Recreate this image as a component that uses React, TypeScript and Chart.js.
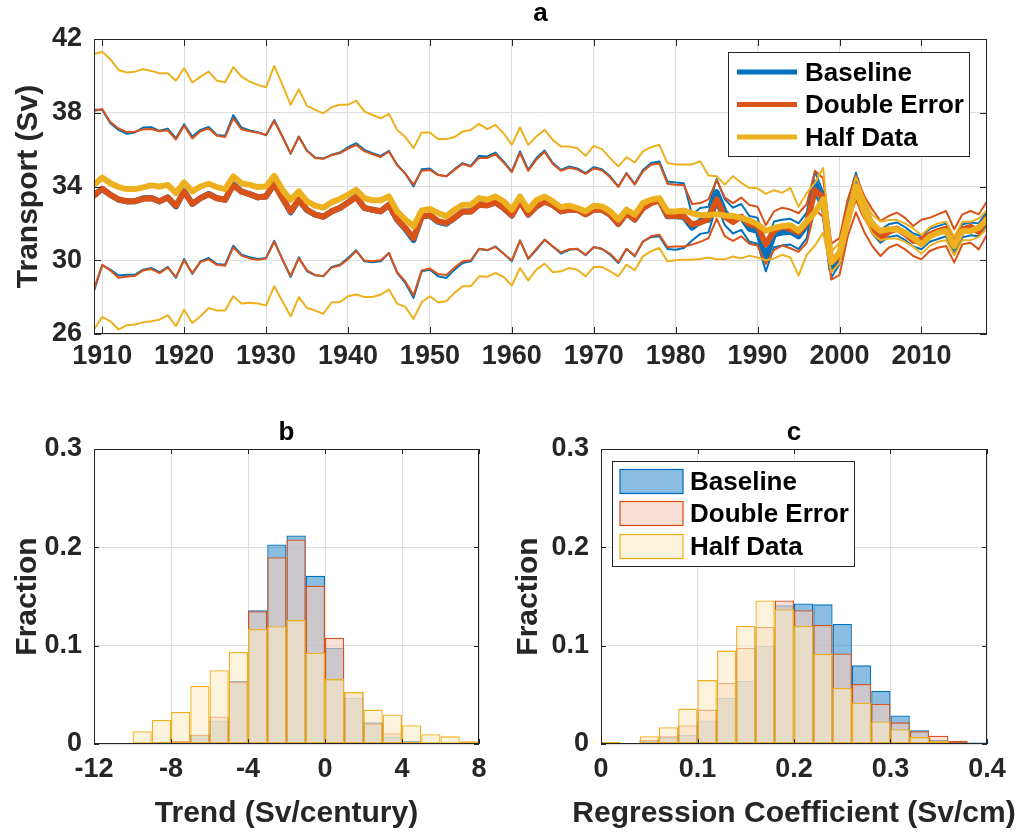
import React, { useEffect, useRef } from "react";
import { Chart, registerables } from "chart.js";
Chart.register(...registerables);

const FAMILY = '"Liberation Sans", Arial, Helvetica, sans-serif';
const AXIS = "#262626";
const GRID = "#dedede";
const BLUE = "#0072BD";
const RED = "#D95319";
const YELLOW = "#EDB120";
const FILL_B = "rgba(62,145,207,0.6)";
const FILL_R = "rgba(247,205,188,0.6)";
const FILL_Y = "rgba(250,235,197,0.6)";

// ---------- panel a ----------
const years = [
  1909, 1910, 1911, 1912, 1913, 1914, 1915, 1916, 1917, 1918,
  1919, 1920, 1921, 1922, 1923, 1924, 1925, 1926, 1927, 1928,
  1929, 1930, 1931, 1932, 1933, 1934, 1935, 1936, 1937, 1938,
  1939, 1940, 1941, 1942, 1943, 1944, 1945, 1946, 1947, 1948,
  1949, 1950, 1951, 1952, 1953, 1954, 1955, 1956, 1957, 1958,
  1959, 1960, 1961, 1962, 1963, 1964, 1965, 1966, 1967, 1968,
  1969, 1970, 1971, 1972, 1973, 1974, 1975, 1976, 1977, 1978,
  1979, 1980, 1981, 1982, 1983, 1984, 1985, 1986, 1987, 1988,
  1989, 1990, 1991, 1992, 1993, 1994, 1995, 1996, 1997, 1998,
  1999, 2000, 2001, 2002, 2003, 2004, 2005, 2006, 2007, 2008,
  2009, 2010, 2011, 2012, 2013, 2014, 2015, 2016, 2017, 2018,
];

const baselineMean = [
  33.55, 33.86, 33.55, 33.28, 33.19, 33.2, 33.36, 33.38, 33.19, 33.41,
  32.92, 33.75, 33.05, 33.37, 33.6, 33.37, 33.28, 34.12, 33.73, 33.59,
  33.41, 33.46, 34.15, 33.37, 32.6, 33.28, 32.72, 32.47, 32.36, 32.65,
  32.83, 33.14, 33.45, 32.83, 32.74, 32.65, 33.01, 32.2, 31.7, 31.1,
  32.38, 32.42, 32.08, 31.98, 32.29, 32.65, 32.65, 33.05, 33.0, 33.14,
  32.83, 32.42, 33.22, 32.47, 32.92, 33.2, 33.01, 32.65, 32.76, 32.74,
  32.5, 32.76, 32.74, 32.47, 31.96, 32.56, 32.2, 32.85, 33.12, 33.27,
  32.38, 32.38, 32.34, 31.77, 32.13, 32.2, 33.7, 32.6, 32.15, 32.35,
  31.7, 31.6, 30.1, 31.4, 31.5, 31.55, 31.3, 31.9, 34.2, 33.2,
  29.5, 30.2, 32.5, 34.4, 32.8, 31.8, 31.3, 31.6, 31.7, 31.45,
  31.1, 30.95, 31.35, 31.5, 31.65, 30.7, 31.6, 31.7, 31.65, 32.3,
];
const baselineUpper = [
  38.16, 38.16, 37.43, 37.07, 36.86, 36.93, 37.2, 37.22, 37.02, 37.14,
  36.62, 37.38, 36.71, 37.07, 37.23, 36.8, 36.75, 37.87, 37.2, 37.04,
  36.95, 36.78, 37.61, 36.71, 35.77, 36.71, 35.95, 35.57, 35.52, 35.72,
  35.84, 36.13, 36.35, 35.99, 35.81, 35.66, 35.93, 35.18, 34.69, 34.0,
  34.94, 34.98, 34.64, 34.55, 34.94, 35.27, 35.12, 35.66, 35.63, 35.84,
  35.36, 34.82, 35.9, 34.91, 35.54, 35.95, 35.27, 34.9, 35.09, 34.98,
  34.73, 35.05, 34.94, 34.55, 34.0, 34.73, 34.15, 34.9, 35.27, 35.36,
  34.27, 34.22, 34.18, 32.47, 32.83, 32.9, 34.4, 33.3, 32.85, 33.05,
  32.4, 32.3, 30.8, 32.1, 32.2, 32.25, 32.0, 32.6, 34.8, 33.7,
  29.95, 30.6, 32.9, 34.75, 33.15, 32.15, 31.65, 31.95, 32.05, 31.8,
  31.45, 31.3, 31.7, 31.85, 32.0, 31.05, 31.95, 32.05, 32.0, 32.65,
];
const baselineLower = [
  28.32, 29.73, 29.49, 29.17, 29.22, 29.22, 29.49, 29.58, 29.35, 29.64,
  29.04, 30.07, 29.26, 29.94, 30.12, 29.8, 29.76, 30.79, 30.3, 30.16,
  30.07, 30.12, 31.06, 30.03, 29.09, 30.16, 29.4, 29.18, 29.13, 29.64,
  29.76, 30.12, 30.54, 29.94, 29.89, 29.94, 30.39, 29.31, 28.77, 27.96,
  29.4, 29.49, 29.13, 29.04, 29.49, 29.85, 29.94, 30.61, 30.54, 30.75,
  30.36, 29.94, 31.08, 30.07, 30.57, 31.11, 30.75, 30.36, 30.57, 30.61,
  30.27, 30.72, 30.61, 30.3, 29.85, 30.61, 30.21, 31.02, 31.26, 31.3,
  30.61, 30.57, 30.66, 31.07, 31.43, 31.5, 33.0, 31.9, 31.45, 31.65,
  31.0, 30.9, 29.4, 30.7, 30.8, 30.85, 30.6, 31.2, 33.6, 32.7,
  29.05, 29.8, 32.1, 34.05, 32.45, 31.45, 30.95, 31.25, 31.35, 31.1,
  30.75, 30.6, 31.0, 31.15, 31.3, 30.35, 31.25, 31.35, 31.3, 31.95,
];

const doubleMean = [
  33.5, 33.88, 33.55, 33.3, 33.2, 33.2, 33.33, 33.36, 33.2, 33.4,
  32.96, 33.72, 33.06, 33.37, 33.58, 33.36, 33.28, 34.08, 33.72, 33.58,
  33.42, 33.46, 34.14, 33.38, 32.65, 33.28, 32.74, 32.47, 32.36, 32.65,
  32.83, 33.12, 33.43, 32.84, 32.74, 32.66, 33.0, 32.22, 31.75, 31.2,
  32.38, 32.44, 32.12, 32.02, 32.3, 32.64, 32.64, 33.01, 32.97, 33.13,
  32.83, 32.44, 33.18, 32.49, 32.92, 33.18, 33.0, 32.66, 32.74, 32.74,
  32.48, 32.74, 32.74, 32.48, 31.98, 32.56, 32.22, 32.82, 33.1, 33.25,
  32.42, 32.4, 32.38, 31.95, 32.04, 32.25, 33.3, 32.36, 32.07, 32.36,
  31.95, 31.86, 30.86, 31.59, 31.82, 31.7, 31.5, 32.0, 33.8, 33.4,
  29.9, 30.2, 32.3, 33.6, 32.5, 31.77, 31.18, 31.54, 31.72, 31.45,
  31.05, 31.12, 31.4, 31.58, 31.72, 30.78, 31.68, 31.81, 31.54, 32.3,
];
const doubleUpper = [
  38.1, 38.2, 37.5, 37.15, 36.95, 36.97, 37.1, 37.12, 37.0, 37.05,
  36.55, 37.3, 36.6, 37.0, 37.15, 36.75, 36.68, 37.7, 37.1, 37.0,
  36.92, 36.8, 37.55, 36.7, 35.8, 36.68, 35.92, 35.55, 35.5, 35.7,
  35.8, 36.05, 36.25, 35.92, 35.75, 35.6, 35.9, 35.15, 34.7, 34.1,
  34.85, 34.9, 34.62, 34.55, 34.9, 35.22, 35.08, 35.55, 35.55, 35.75,
  35.3, 34.78, 35.82, 34.85, 35.45, 35.88, 35.22, 34.85, 35.02, 34.92,
  34.68, 34.98, 34.88, 34.5, 33.98, 34.7, 34.1, 34.82, 35.18, 35.25,
  34.15, 34.1, 34.08, 33.05, 33.1, 33.3, 34.35, 33.4, 33.1, 33.4,
  33.0, 32.9, 31.9, 32.65, 32.85, 32.75, 32.55, 33.05, 34.85, 34.45,
  30.9, 31.2, 33.3, 34.6, 33.5, 32.76, 32.13, 32.4, 32.58, 32.3,
  31.86, 32.2, 32.3, 32.49, 32.67, 31.68, 32.49, 32.67, 32.49, 33.2,
];
const doubleLower = [
  28.45, 29.75, 29.45, 29.05, 29.12, 29.15, 29.45, 29.52, 29.3, 29.6,
  29.1, 30.0, 29.3, 29.9, 30.05, 29.75, 29.7, 30.7, 30.25, 30.1,
  30.02, 30.1, 31.0, 30.05, 29.15, 30.1, 29.45, 29.2, 29.15, 29.6,
  29.72, 30.05, 30.5, 29.98, 29.95, 30.0, 30.4, 29.35, 28.85, 28.1,
  29.45, 29.55, 29.25, 29.2, 29.6, 29.95, 30.0, 30.62, 30.55, 30.72,
  30.35, 30.0, 31.05, 30.1, 30.62, 31.12, 30.75, 30.42, 30.6, 30.62,
  30.3, 30.7, 30.62, 30.35, 29.9, 30.62, 30.25, 31.0, 31.3, 31.38,
  30.72, 30.75, 30.75, 30.85, 31.0, 31.2, 32.25, 31.3, 31.05, 31.3,
  30.9, 30.8, 29.8, 30.55, 30.8, 30.65, 30.45, 30.95, 32.75, 32.35,
  28.95, 29.2, 31.3, 32.6, 31.55, 30.77, 30.23, 30.68, 30.86, 30.59,
  30.23, 30.05, 30.5, 30.68, 30.77, 29.87, 30.86, 30.95, 30.59, 31.4,
];

const halfMean = [
  34.09, 34.49, 34.18, 33.97, 33.86, 33.86, 33.95, 34.06, 34.0, 34.09,
  33.64, 34.22, 33.73, 34.0, 34.15, 33.97, 33.86, 34.55, 34.18, 34.09,
  33.97, 34.0, 34.58, 33.82, 33.28, 33.73, 33.19, 32.96, 32.85, 33.14,
  33.32, 33.55, 33.82, 33.37, 33.25, 33.25, 33.46, 32.65, 32.2, 31.84,
  32.7, 32.78, 32.56, 32.38, 32.74, 33.01, 33.01, 33.37, 33.28, 33.46,
  33.19, 32.74, 33.46, 32.74, 33.25, 33.46, 33.19, 32.88, 32.96, 32.83,
  32.65, 32.96, 32.92, 32.65, 32.2, 32.74, 32.47, 33.1, 33.28, 33.37,
  32.65, 32.65, 32.7, 32.55, 32.45, 32.45, 32.5, 32.43, 32.4, 32.3,
  32.15, 31.95, 31.6, 31.75, 31.85, 31.9, 31.6, 32.1, 32.6, 33.3,
  29.9, 30.4, 32.2, 34.0, 32.85, 31.95, 31.59, 31.68, 31.68, 31.5,
  31.23, 30.86, 31.28, 31.5, 31.59, 30.77, 31.59, 31.59, 31.77, 32.22,
];
const halfUpper = [
  41.19, 41.31, 40.9, 40.32, 40.18, 40.23, 40.36, 40.27, 40.14, 40.14,
  39.74, 40.41, 39.64, 39.96, 40.23, 39.74, 39.65, 40.47, 39.96, 39.69,
  39.51, 39.38, 40.54, 39.51, 38.43, 39.27, 38.37, 38.16, 37.97, 38.3,
  38.43, 38.43, 38.66, 38.07, 37.88, 37.7, 37.94, 37.07, 36.68, 36.08,
  36.93, 36.93, 36.57, 36.57, 36.68, 36.98, 37.07, 37.4, 37.11, 37.34,
  36.89, 36.26, 37.2, 36.26, 36.71, 37.07, 36.53, 36.17, 36.17, 36.08,
  35.66, 36.2, 36.03, 35.54, 35.09, 35.59, 35.3, 35.9, 36.13, 36.26,
  35.27, 35.2, 35.2, 35.2, 35.37, 34.6, 34.56, 34.1, 34.56, 34.2,
  33.93, 33.9, 33.6, 33.8, 33.66, 33.93, 32.9, 33.66, 34.2, 35.0,
  30.45, 30.95, 32.75, 34.5, 33.35, 32.45, 32.1, 32.18, 32.18, 32.0,
  31.73, 31.36, 31.78, 32.0, 32.09, 31.27, 32.09, 32.09, 32.27, 32.72,
];
const halfLower = [
  26.24, 26.93, 26.69, 26.24, 26.48, 26.51, 26.64, 26.69, 26.78, 27.02,
  26.42, 27.32, 26.6, 26.96, 27.41, 27.27, 27.27, 28.05, 27.65, 27.69,
  27.65, 27.54, 28.59, 27.78, 26.96, 28.0, 27.41, 27.27, 27.1, 27.72,
  27.72, 28.05, 28.14, 28.01, 28.01, 28.14, 28.41, 27.65, 27.47, 26.82,
  27.72, 28.05, 27.72, 27.78, 28.23, 28.59, 28.59, 29.13, 29.1, 29.31,
  29.1, 28.63, 29.58, 28.91, 29.49, 29.82, 29.35, 29.4, 29.58, 29.49,
  29.13, 29.64, 29.64, 29.4, 29.13, 29.76, 29.46, 30.21, 30.49, 30.67,
  29.94, 30.0, 30.03, 30.03, 30.07, 30.15, 30.05, 30.05, 30.2, 30.1,
  30.25, 30.15, 30.0, 30.1, 30.3, 30.15, 29.17, 30.3, 30.8, 31.5,
  29.35, 29.85, 31.65, 33.5, 32.35, 31.45, 31.08, 31.18, 31.18, 31.0,
  30.73, 30.36, 30.78, 31.0, 31.09, 30.27, 31.09, 31.09, 31.27, 31.72,
];

const yearTicks = [1910, 1920, 1930, 1940, 1950, 1960, 1970, 1980, 1990, 2000, 2010];
const transportTicks = [26, 30, 34, 38, 42];

// ---------- panel b ----------
const trendBinCenters = [-9.5, -8.5, -7.5, -6.5, -5.5, -4.5, -3.5, -2.5, -1.5, -0.5, 0.5, 1.5, 2.5, 3.5, 4.5, 5.5, 6.5, 7.5];
const trendBaseline = [0, 0.001, 0.002, 0.009, 0.024, 0.064, 0.136, 0.203, 0.212, 0.171, 0.098, 0.047, 0.022, 0.007, 0.003, 0.001, 0, 0];
const trendDouble = [0, 0.002, 0.003, 0.0095, 0.028, 0.063, 0.135, 0.19, 0.208, 0.161, 0.108, 0.053, 0.021, 0.011, 0.002, 0.001, 0, 0];
const trendHalf = [0.013, 0.0244, 0.0325, 0.059, 0.075, 0.0936, 0.117, 0.1197, 0.126, 0.0929, 0.066, 0.053, 0.035, 0.03, 0.019, 0.01, 0.0078, 0.0027];
const trendTicks = [-12, -8, -4, 0, 4, 8];

// ---------- panel c ----------
const regBinCenters = [0.01, 0.03, 0.05, 0.07, 0.09, 0.11, 0.13, 0.15, 0.17, 0.19, 0.21, 0.23, 0.25, 0.27, 0.29, 0.31, 0.33, 0.35, 0.37, 0.39];
const regBaseline = [0, 0, 0.003, 0.007, 0.0095, 0.024, 0.047, 0.064, 0.0997, 0.141, 0.143, 0.142, 0.122, 0.08, 0.054, 0.029, 0.014, 0.004, 0.002, 0.0014];
const regDouble = [0, 0.0005, 0.0044, 0.008, 0.019, 0.035, 0.062, 0.098, 0.119, 0.146, 0.136, 0.121, 0.092, 0.061, 0.041, 0.022, 0.013, 0.0085, 0.0034, 0.001];
const regHalf = [0.002, 0.001, 0.008, 0.017, 0.036, 0.065, 0.095, 0.12, 0.146, 0.137, 0.12, 0.0915, 0.057, 0.042, 0.023, 0.015, 0.007, 0.003, 0.001, 0.0005];
const regTicks = [0, 0.1, 0.2, 0.3, 0.4];
const fractionTicks = [0, 0.1, 0.2, 0.3];

const seriesNames = ["Baseline", "Double Error", "Half Data"];

// ---------- drawing helpers ----------
const decor = {
  id: "decor",
  afterDraw(chart: any, _args: any, o: any) {
    const ctx = chart.ctx;
    const a = chart.chartArea;
    const xs = chart.scales.x;
    const ys = chart.scales.y;
    ctx.save();
    ctx.strokeStyle = AXIS;
    ctx.lineWidth = 1;
    ctx.beginPath();
    for (const v of o.xTicks) {
      const p = Math.round(xs.getPixelForValue(v)) + 0.5;
      ctx.moveTo(p, a.bottom);
      ctx.lineTo(p, a.bottom - o.tickLen);
      ctx.moveTo(p, a.top);
      ctx.lineTo(p, a.top + o.tickLen);
    }
    for (const v of o.yTicks) {
      const p = Math.round(ys.getPixelForValue(v)) + 0.5;
      ctx.moveTo(a.left, p);
      ctx.lineTo(a.left + o.tickLen, p);
      ctx.moveTo(a.right, p);
      ctx.lineTo(a.right - o.tickLen, p);
    }
    ctx.stroke();
    ctx.strokeRect(a.left + 0.5, a.top + 0.5, a.right - a.left - 1, a.bottom - a.top - 1);

    ctx.fillStyle = "#000";
    ctx.textAlign = "center";
    ctx.textBaseline = "alphabetic";
    ctx.font = `bold ${o.titleSize}px ${FAMILY}`;
    ctx.fillText(o.title, (a.left + a.right) / 2, o.titleY);
    ctx.font = `bold ${o.labelSize}px ${FAMILY}`;
    ctx.fillStyle = AXIS;
    if (o.xTitle) ctx.fillText(o.xTitle, (a.left + a.right) / 2, o.xTitleY);
    ctx.save();
    ctx.translate(o.yTitleX, (a.top + a.bottom) / 2);
    ctx.rotate(-Math.PI / 2);
    ctx.fillText(o.yTitle, 0, 0);
    ctx.restore();

    const L = o.legend;
    if (L) {
      ctx.fillStyle = "#fff";
      ctx.fillRect(L.x, L.y, L.w, L.h);
      ctx.strokeStyle = AXIS;
      ctx.lineWidth = 1;
      ctx.strokeRect(L.x + 0.5, L.y + 0.5, L.w - 1, L.h - 1);
      ctx.font = `bold ${L.fontSize}px ${FAMILY}`;
      ctx.textAlign = "left";
      ctx.textBaseline = "middle";
      L.items.forEach((it: any, i: number) => {
        const cy = L.rows[i];
        if (L.kind === "line") {
          ctx.strokeStyle = it.edge;
          ctx.lineWidth = 5;
          ctx.beginPath();
          ctx.moveTo(L.sx0, cy);
          ctx.lineTo(L.sx1, cy);
          ctx.stroke();
        } else {
          ctx.fillStyle = it.fill;
          ctx.fillRect(L.sx0, cy - 12, L.sx1 - L.sx0, 24);
          ctx.strokeStyle = it.edge;
          ctx.lineWidth = 1.3;
          ctx.strokeRect(L.sx0, cy - 12, L.sx1 - L.sx0, 24);
        }
        ctx.fillStyle = "#000";
        ctx.fillText(it.label, L.tx, cy + 1.5);
      });
    }
    ctx.restore();
  },
};

const tickFont = { family: FAMILY, size: 27, weight: "bold" as const };

function axis(min: number, max: number, ticks: number[], fixed: { width?: number; height?: number }, padding: number) {
  return {
    type: "linear" as const,
    min,
    max,
    offset: false,
    afterBuildTicks: (s: any) => {
      s.ticks = ticks.map((v) => ({ value: v }));
    },
    afterFit: (s: any) => {
      if (fixed.width !== undefined) s.width = fixed.width;
      if (fixed.height !== undefined) s.height = fixed.height;
    },
    grid: { color: GRID, lineWidth: 1, drawTicks: false, offset: false },
    border: { display: false },
    ticks: {
      font: tickFont,
      color: AXIS,
      padding,
      autoSkip: false,
      maxRotation: 0,
      minRotation: 0,
      callback: (v: any) => String(v),
    },
  };
}

function lineDs(label: string, vals: number[], color: string, width: number, order: number) {
  return {
    label,
    data: years.map((x, i) => ({ x, y: vals[i] })),
    borderColor: color,
    backgroundColor: color,
    borderWidth: width,
    pointRadius: 0,
    tension: 0,
    fill: false,
    borderJoinStyle: "round" as const,
    borderCapStyle: "round" as const,
    order,
  };
}

function histDs(label: string, centers: number[], vals: number[], fill: string, edge: string, order: number) {
  return {
    label,
    data: centers.map((x, i) => ({ x, y: vals[i] })),
    backgroundColor: fill,
    borderColor: edge,
    borderWidth: 1.3,
    borderSkipped: false,
    grouped: false,
    barPercentage: 1,
    categoryPercentage: 1,
    inflateAmount: 0,
    order,
  };
}

function topConfig(): any {
  return {
    type: "line",
    data: {
      datasets: [
        lineDs("Half Data", halfMean, YELLOW, 6, 0),
        lineDs("Half Data upper", halfUpper, YELLOW, 2, 0),
        lineDs("Half Data lower", halfLower, YELLOW, 2, 0),
        lineDs("Double Error", doubleMean, RED, 6, 1),
        lineDs("Double Error upper", doubleUpper, RED, 2, 1),
        lineDs("Double Error lower", doubleLower, RED, 2, 1),
        lineDs("Baseline", baselineMean, BLUE, 6, 2),
        lineDs("Baseline upper", baselineUpper, BLUE, 2, 2),
        lineDs("Baseline lower", baselineLower, BLUE, 2, 2),
      ],
    },
    options: {
      animation: false,
      responsive: false,
      devicePixelRatio: 1,
      layout: { padding: { top: 39, right: 44, left: 0, bottom: 0 } },
      plugins: {
        legend: { display: false },
        tooltip: { enabled: false },
        title: { display: false },
        decor: {
          xTicks: yearTicks,
          yTicks: transportTicks,
          tickLen: 7,
          title: "a",
          titleY: 21,
          titleSize: 26,
          labelSize: 30,
          yTitle: "Transport (Sv)",
          yTitleX: 36.5,
          legend: {
            kind: "line",
            x: 728,
            y: 52,
            w: 242,
            h: 105,
            fontSize: 26,
            rows: [72, 104.5, 137],
            sx0: 737,
            sx1: 797,
            tx: 805,
            items: [
              { label: seriesNames[0], edge: BLUE },
              { label: seriesNames[1], edge: RED },
              { label: seriesNames[2], edge: YELLOW },
            ],
          },
        },
      },
      scales: {
        x: axis(1909, 2018, yearTicks, { height: 395 - 334 }, 6),
        y: axis(26, 42, transportTicks, { width: 94 }, 12),
      },
    },
    plugins: [decor],
  };
}

function histConfig(
  centers: number[],
  base: number[],
  dbl: number[],
  half: number[],
  xmin: number,
  xmax: number,
  xticks: number[],
  yAxisWidth: number,
  rightPad: number,
  deco: any
): any {
  return {
    type: "bar",
    data: {
      datasets: [
        histDs(seriesNames[2], centers, half, FILL_Y, YELLOW, 0),
        histDs(seriesNames[1], centers, dbl, FILL_R, RED, 1),
        histDs(seriesNames[0], centers, base, FILL_B, BLUE, 2),
      ],
    },
    options: {
      animation: false,
      responsive: false,
      devicePixelRatio: 1,
      layout: { padding: { top: 49, right: rightPad, left: 0, bottom: 0 } },
      plugins: {
        legend: { display: false },
        tooltip: { enabled: false },
        title: { display: false },
        decor: deco,
      },
      scales: {
        x: axis(xmin, xmax, xticks, { height: 439 - 344 }, 9),
        y: axis(0, 0.3, fractionTicks, { width: yAxisWidth }, 12),
      },
    },
    plugins: [decor],
  };
}

export default function App() {
  const topRef = useRef<HTMLCanvasElement>(null);
  const bRef = useRef<HTMLCanvasElement>(null);
  const cRef = useRef<HTMLCanvasElement>(null);

  useEffect(() => {
    const charts: Chart[] = [];
    if (topRef.current) charts.push(new Chart(topRef.current, topConfig()));
    if (bRef.current)
      charts.push(
        new Chart(
          bRef.current,
          histConfig(trendBinCenters, trendBaseline, trendDouble, trendHalf, -12, 8, trendTicks, 94, 21, {
            xTicks: trendTicks,
            yTicks: fractionTicks,
            tickLen: 5,
            title: "b",
            titleY: 40,
            titleSize: 26,
            labelSize: 30,
            xTitle: "Trend (Sv/century)",
            xTitleY: 422,
            yTitle: "Fraction",
            yTitleX: 36,
          })
        )
      );
    if (cRef.current)
      charts.push(
        new Chart(
          cRef.current,
          histConfig(regBinCenters, regBaseline, regDouble, regHalf, 0, 0.4, regTicks, 101, 44, {
            xTicks: regTicks,
            yTicks: fractionTicks,
            tickLen: 5,
            title: "c",
            titleY: 40,
            titleSize: 26,
            labelSize: 30,
            xTitle: "Regression Coefficient (Sv/cm)",
            xTitleY: 422,
            yTitle: "Fraction",
            yTitleX: 37,
            legend: {
              kind: "patch",
              x: 112,
              y: 61,
              w: 243,
              h: 106,
              fontSize: 26,
              rows: [81.5, 113.5, 146.5],
              sx0: 120,
              sx1: 183,
              tx: 190,
              items: [
                { label: seriesNames[0], fill: FILL_B, edge: BLUE },
                { label: seriesNames[1], fill: FILL_R, edge: RED },
                { label: seriesNames[2], fill: FILL_Y, edge: YELLOW },
              ],
            },
          })
        )
      );
    return () => charts.forEach((c) => c.destroy());
  }, []);

  return (
    <div style={{ position: "absolute", left: 0, top: 0, width: 1031, height: 839, background: "#fff" }}>
      <canvas ref={topRef} width={1031} height={395} style={{ position: "absolute", left: 0, top: 0 }} />
      <canvas ref={bRef} width={500} height={439} style={{ position: "absolute", left: 0, top: 400 }} />
      <canvas ref={cRef} width={531} height={439} style={{ position: "absolute", left: 500, top: 400 }} />
    </div>
  );
}
